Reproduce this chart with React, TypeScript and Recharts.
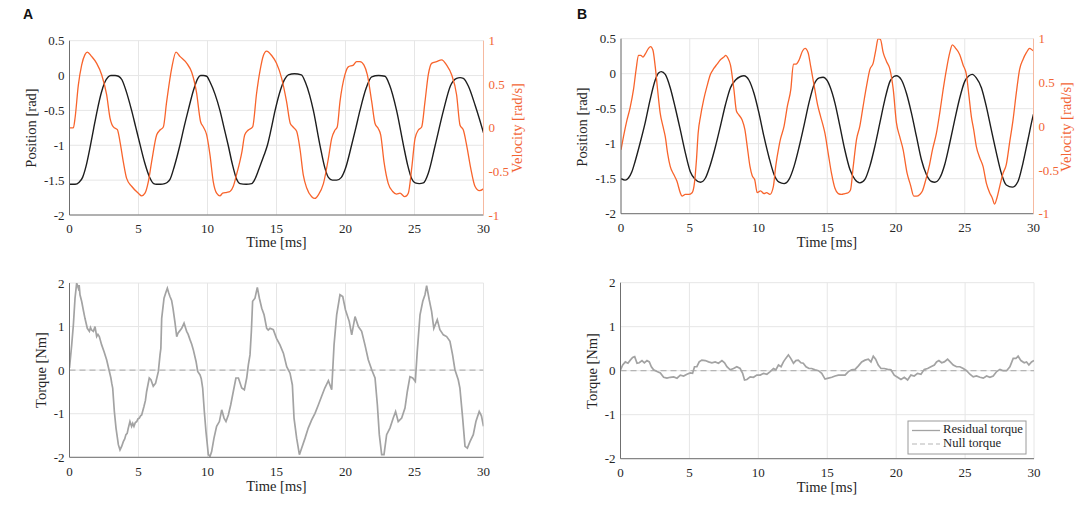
import React from 'react';
import { LineChart, Line, XAxis, YAxis, CartesianGrid } from 'recharts';

// ---------- tick labels ----------
const timeTicks = [0, 5, 10, 15, 20, 25, 30];
const positionTicks = [-2, -1.5, -1, -0.5, 0, 0.5];
const velocityTicks = [-1, -0.5, 0, 0.5, 1];
const torqueTicks = [-2, -1, 0, 1, 2];

// ---------- series [time ms, value] ----------
const positionA = [[0,-1.56],[0.4,-1.56],[0.7,-1.53],[0.95,-1.46],[1.2,-1.3],[1.5,-1.02],[1.75,-0.76],[2.03,-0.48],[2.3,-0.25],[2.55,-0.1],[2.8,-0.02],[3.0,0],[3.3,0],[3.55,-0.01],[3.8,-0.06],[4.1,-0.22],[4.5,-0.5],[4.8,-0.74],[5.1,-0.98],[5.45,-1.25],[5.83,-1.47],[6.1,-1.55],[6.3,-1.56],[6.6,-1.56],[6.9,-1.55],[7.1,-1.53],[7.28,-1.49],[7.6,-1.3],[8.0,-1.0],[8.3,-0.74],[8.6,-0.5],[9.0,-0.2],[9.3,-0.04],[9.5,0],[9.7,0],[9.94,-0.01],[10.2,-0.1],[10.55,-0.27],[10.9,-0.5],[11.2,-0.75],[11.5,-1.0],[11.8,-1.27],[12.1,-1.48],[12.35,-1.55],[12.8,-1.56],[13.2,-1.55],[13.45,-1.48],[13.8,-1.3],[14.1,-1.14],[14.34,-1.0],[14.6,-0.78],[14.9,-0.5],[15.3,-0.2],[15.6,-0.05],[15.86,0.01],[16.3,0.025],[16.8,0.01],[17.1,-0.1],[17.4,-0.28],[17.67,-0.5],[18.15,-1.0],[18.5,-1.32],[18.76,-1.46],[19.05,-1.5],[19.36,-1.5],[19.7,-1.46],[20.0,-1.33],[20.44,-1.0],[20.75,-0.75],[21.05,-0.5],[21.5,-0.18],[21.9,-0.02],[22.4,0],[22.86,-0.01],[23.2,-0.14],[23.7,-0.5],[24.2,-1.0],[24.5,-1.28],[24.8,-1.48],[25.05,-1.54],[25.35,-1.55],[25.64,-1.54],[26.0,-1.4],[26.5,-1.0],[27.1,-0.5],[27.6,-0.15],[28.05,-0.04],[28.3,-0.03],[28.54,-0.04],[28.9,-0.15],[29.4,-0.43],[29.7,-0.62],[30,-0.82]];

const velocityA = [[0,0],[0.28,0],[0.4,0.11],[0.64,0.49],[0.88,0.72],[1.12,0.84],[1.29,0.87],[1.6,0.82],[1.97,0.74],[2.33,0.61],[2.69,0.38],[2.94,0.11],[3.18,0.01],[3.47,-0.02],[3.66,-0.16],[3.9,-0.39],[4.14,-0.58],[4.5,-0.67],[4.99,-0.75],[5.23,-0.78],[5.47,-0.75],[5.71,-0.62],[5.95,-0.39],[6.32,-0.08],[6.56,-0.025],[6.8,0.01],[7.04,0.3],[7.4,0.68],[7.72,0.87],[8.0,0.82],[8.5,0.74],[8.85,0.64],[9.2,0.41],[9.5,0.07],[9.7,0.01],[9.94,-0.08],[10.18,-0.31],[10.42,-0.62],[10.66,-0.75],[10.9,-0.78],[11.1,-0.75],[11.4,-0.74],[11.63,-0.73],[11.87,-0.67],[12.1,-0.54],[12.5,-0.27],[12.7,-0.08],[12.96,-0.025],[13.27,0.01],[13.56,0.4],[13.8,0.65],[14.05,0.83],[14.28,0.88],[14.65,0.83],[15.0,0.74],[15.37,0.57],[15.73,0.3],[16.0,0.05],[16.2,0.01],[16.46,-0.04],[16.7,-0.24],[16.94,-0.54],[17.19,-0.69],[17.55,-0.79],[17.79,-0.81],[18.03,-0.77],[18.4,-0.64],[18.76,-0.35],[19.0,-0.12],[19.24,-0.025],[19.4,0.01],[19.6,0.3],[19.96,0.61],[20.2,0.7],[20.57,0.72],[20.8,0.76],[21.05,0.76],[21.34,0.72],[21.58,0.61],[21.9,0.3],[22.14,0.05],[22.38,-0.01],[22.55,-0.08],[22.79,-0.39],[23.1,-0.64],[23.42,-0.73],[23.7,-0.76],[23.95,-0.75],[24.3,-0.79],[24.55,-0.75],[24.8,-0.46],[25.04,-0.12],[25.28,-0.025],[25.52,0.01],[25.76,0.3],[26.0,0.61],[26.24,0.74],[26.6,0.76],[26.97,0.78],[27.33,0.72],[27.69,0.61],[28.05,0.38],[28.3,0.03],[28.54,-0.025],[28.78,-0.2],[29.07,-0.46],[29.38,-0.67],[29.7,-0.72],[30,-0.7]];

const torqueA = [[0,0.05],[0.16,0.58],[0.28,1.04],[0.4,1.65],[0.52,2.0],[0.64,1.88],[0.7,1.95],[0.76,1.73],[0.88,1.58],[1.0,1.38],[1.12,1.19],[1.29,0.96],[1.44,0.89],[1.52,0.98],[1.6,0.92],[1.73,0.89],[1.85,1.0],[1.97,0.77],[2.06,0.82],[2.16,0.77],[2.33,0.58],[2.5,0.43],[2.69,0.24],[2.89,-0.03],[3.0,-0.18],[3.06,-0.3],[3.13,-0.41],[3.25,-0.95],[3.37,-1.33],[3.54,-1.71],[3.66,-1.83],[3.78,-1.75],[3.9,-1.64],[4.0,-1.58],[4.09,-1.48],[4.18,-1.45],[4.26,-1.33],[4.38,-1.18],[4.5,-1.29],[4.58,-1.22],[4.67,-1.29],[4.77,-1.2],[4.87,-1.18],[4.96,-1.12],[5.06,-1.1],[5.15,-1.05],[5.23,-1.03],[5.4,-0.83],[5.5,-0.7],[5.59,-0.49],[5.78,-0.18],[5.9,-0.22],[6.07,-0.37],[6.24,-0.3],[6.44,-0.03],[6.56,0.35],[6.62,0.5],[6.68,1.19],[6.85,1.65],[7.0,1.8],[7.09,1.88],[7.18,1.78],[7.28,1.69],[7.4,1.6],[7.5,1.42],[7.64,1.1],[7.77,0.77],[7.86,0.85],[7.96,0.89],[8.13,0.96],[8.3,1.08],[8.4,0.98],[8.49,0.89],[8.6,0.82],[8.73,0.7],[8.85,0.6],[8.97,0.47],[9.17,0.2],[9.29,-0.03],[9.46,-0.11],[9.55,-0.2],[9.65,-0.41],[9.77,-0.95],[9.89,-1.41],[10.06,-1.94],[10.18,-1.98],[10.3,-1.87],[10.47,-1.56],[10.66,-1.29],[10.86,-1.18],[11.03,-0.91],[11.2,-1.1],[11.34,-1.18],[11.51,-1.03],[11.68,-0.8],[11.87,-0.49],[12.06,-0.18],[12.24,-0.18],[12.48,-0.41],[12.67,-0.45],[12.84,-0.18],[12.96,0.12],[13.08,0.35],[13.18,0.9],[13.27,1.58],[13.44,1.65],[13.61,1.9],[13.76,1.65],[13.93,1.42],[14.1,1.27],[14.29,0.96],[14.4,0.92],[14.53,0.96],[14.77,0.93],[15.0,0.73],[15.25,0.58],[15.5,0.39],[15.74,0.08],[15.98,-0.07],[16.15,-0.34],[16.27,-1.1],[16.46,-1.56],[16.66,-1.94],[16.82,-1.79],[17.07,-1.56],[17.3,-1.33],[17.55,-1.14],[17.79,-0.99],[18.03,-0.8],[18.27,-0.6],[18.5,-0.41],[18.76,-0.24],[19.0,-0.45],[19.17,0.58],[19.36,1.27],[19.6,1.73],[19.8,1.69],[20.0,1.38],[20.27,1.12],[20.45,0.81],[20.69,1.23],[20.93,1.0],[21.17,0.89],[21.41,0.58],[21.65,0.24],[21.9,0.01],[22.14,-0.18],[22.31,-0.8],[22.45,-1.48],[22.62,-1.94],[22.79,-1.94],[22.98,-1.48],[23.22,-1.33],[23.46,-1.1],[23.63,-0.95],[23.82,-1.18],[24.07,-1.1],[24.31,-0.87],[24.48,-0.49],[24.67,-0.15],[24.87,-0.18],[25.06,-0.26],[25.2,0.43],[25.4,1.27],[25.6,1.58],[25.76,1.73],[25.88,1.94],[26.07,1.61],[26.24,1.35],[26.4,0.96],[26.65,1.16],[26.84,0.93],[27.09,0.81],[27.33,0.77],[27.57,0.66],[27.76,0.35],[27.93,0.01],[28.17,-0.22],[28.29,-0.41],[28.49,-1.1],[28.66,-1.75],[28.83,-1.79],[29.02,-1.64],[29.26,-1.48],[29.45,-1.18],[29.69,-0.95],[29.85,-1.05],[30,-1.29]];

const positionB = [[0,-1.5],[0.3,-1.52],[0.54,-1.49],[0.79,-1.4],[1.03,-1.25],[1.39,-0.99],[1.76,-0.7],[2.12,-0.37],[2.49,-0.09],[2.73,0.01],[2.93,0.03],[3.22,-0.01],[3.58,-0.2],[3.95,-0.49],[4.31,-0.8],[4.68,-1.13],[5.04,-1.4],[5.41,-1.51],[5.78,-1.55],[6.14,-1.49],[6.5,-1.3],[6.87,-1.04],[7.23,-0.75],[7.6,-0.44],[7.96,-0.2],[8.33,-0.09],[8.69,-0.04],[8.94,-0.03],[9.3,-0.09],[9.67,-0.28],[10.03,-0.56],[10.4,-0.9],[10.77,-1.2],[11.13,-1.44],[11.5,-1.55],[11.86,-1.57],[12.22,-1.51],[12.59,-1.32],[12.96,-1.04],[13.32,-0.73],[13.69,-0.4],[14.05,-0.15],[14.42,-0.06],[14.7,-0.05],[15.0,-0.1],[15.19,-0.18],[15.56,-0.42],[15.92,-0.75],[16.28,-1.09],[16.65,-1.37],[17.01,-1.51],[17.37,-1.56],[17.74,-1.51],[18.1,-1.32],[18.46,-1.04],[18.83,-0.7],[19.19,-0.37],[19.56,-0.11],[19.84,-0.04],[20.03,-0.03],[20.4,-0.09],[20.76,-0.28],[21.12,-0.56],[21.49,-0.9],[21.85,-1.23],[22.21,-1.44],[22.58,-1.54],[22.82,-1.55],[23.18,-1.49],[23.54,-1.3],[23.91,-0.99],[24.27,-0.66],[24.63,-0.35],[25.0,-0.11],[25.31,-0.03],[25.55,-0.01],[25.84,-0.06],[26.21,-0.2],[26.57,-0.47],[26.93,-0.8],[27.3,-1.13],[27.66,-1.42],[28.02,-1.59],[28.46,-1.62],[28.87,-1.54],[29.23,-1.28],[29.6,-0.94],[29.96,-0.61],[30,-0.58]];

const velocityB = [[0,-0.27],[0.18,-0.12],[0.42,0.06],[0.66,0.21],[0.91,0.42],[1.1,0.65],[1.27,0.81],[1.44,0.81],[1.59,0.79],[1.78,0.83],[2.0,0.89],[2.15,0.91],[2.32,0.87],[2.49,0.68],[2.66,0.42],[2.85,0.15],[3.05,0],[3.22,-0.12],[3.39,-0.31],[3.58,-0.46],[3.83,-0.55],[4.07,-0.63],[4.31,-0.76],[4.44,-0.8],[4.68,-0.78],[4.92,-0.78],[5.17,-0.76],[5.34,-0.65],[5.49,-0.38],[5.61,-0.08],[5.78,0.11],[6.01,0.3],[6.26,0.46],[6.5,0.59],[6.75,0.66],[6.99,0.71],[7.23,0.76],[7.48,0.79],[7.62,0.81],[7.77,0.78],[7.96,0.7],[8.21,0.42],[8.4,0.17],[8.57,0.13],[8.81,0.07],[9.01,-0.04],[9.18,-0.23],[9.38,-0.46],[9.55,-0.57],[9.72,-0.61],[9.91,-0.76],[10.15,-0.74],[10.4,-0.77],[10.59,-0.76],[10.83,-0.78],[11.08,-0.69],[11.25,-0.46],[11.49,-0.23],[11.61,-0.14],[11.86,0],[12.1,0.23],[12.35,0.42],[12.54,0.71],[12.74,0.71],[12.96,0.76],[13.2,0.86],[13.39,0.89],[13.61,0.84],[13.8,0.68],[14.05,0.46],[14.29,0.25],[14.5,0.12],[14.71,0],[14.83,-0.08],[15.07,-0.31],[15.31,-0.54],[15.56,-0.71],[15.8,-0.77],[16.04,-0.78],[16.28,-0.77],[16.52,-0.76],[16.69,-0.73],[16.89,-0.46],[17.13,-0.15],[17.37,0],[17.61,0.23],[17.86,0.46],[18.1,0.65],[18.34,0.72],[18.53,0.87],[18.7,1.0],[18.87,0.99],[19.07,0.84],[19.31,0.74],[19.56,0.65],[19.8,0.42],[20.03,0.04],[20.27,-0.12],[20.52,-0.27],[20.81,-0.54],[21.05,-0.67],[21.3,-0.8],[21.49,-0.8],[21.73,-0.78],[21.92,-0.74],[22.17,-0.61],[22.41,-0.46],[22.65,-0.27],[22.94,-0.08],[23.18,0.15],[23.43,0.42],[23.67,0.65],[23.91,0.84],[24.1,0.93],[24.34,0.89],[24.63,0.82],[24.88,0.7],[25.12,0.59],[25.31,0.34],[25.48,0.11],[25.65,-0.04],[25.84,-0.23],[26.09,-0.36],[26.33,-0.46],[26.57,-0.65],[26.81,-0.76],[27.0,-0.82],[27.17,-0.89],[27.34,-0.82],[27.54,-0.69],[27.78,-0.54],[28.02,-0.44],[28.26,-0.19],[28.51,0.07],[28.75,0.38],[28.99,0.65],[29.23,0.76],[29.48,0.84],[29.72,0.89],[29.91,0.87],[30,0.86]];

const torqueB = [[0,0.02],[0.16,0.13],[0.35,0.2],[0.54,0.17],[0.71,0.24],[0.88,0.3],[1.03,0.32],[1.2,0.17],[1.36,0.18],[1.56,0.23],[1.73,0.18],[1.92,0.23],[2.09,0.2],[2.24,0.09],[2.4,0.02],[2.65,-0.02],[2.89,-0.05],[3.13,-0.15],[3.37,-0.17],[3.61,-0.15],[3.86,-0.14],[4.1,-0.17],[4.34,-0.1],[4.58,-0.12],[4.82,-0.08],[5.06,-0.05],[5.23,-0.06],[5.37,0.09],[5.54,0.09],[5.71,0.2],[5.9,0.24],[6.15,0.23],[6.39,0.2],[6.63,0.18],[6.87,0.2],[7.11,0.17],[7.36,0.23],[7.55,0.18],[7.72,0.09],[7.96,0.02],[8.2,0.05],[8.44,0.09],[8.68,0.05],[8.86,-0.06],[9.0,-0.21],[9.17,-0.2],[9.41,-0.14],[9.65,-0.15],[9.89,-0.1],[10.14,-0.1],[10.38,-0.06],[10.62,-0.08],[10.86,-0.02],[11.1,0.05],[11.27,0.02],[11.46,0.13],[11.65,0.09],[11.82,0.2],[11.99,0.28],[12.18,0.36],[12.35,0.28],[12.55,0.17],[12.72,0.23],[12.9,0.24],[13.09,0.18],[13.26,0.17],[13.46,0.09],[13.68,0.05],[13.87,0.05],[14.12,0.02],[14.36,0],[14.6,-0.06],[14.84,-0.19],[15.08,-0.17],[15.33,-0.15],[15.57,-0.12],[15.81,-0.1],[16.05,-0.1],[16.29,-0.1],[16.53,-0.02],[16.77,0.02],[17.02,0.03],[17.26,0.11],[17.5,0.2],[17.74,0.24],[17.98,0.26],[18.17,0.2],[18.34,0.33],[18.51,0.26],[18.7,0.13],[18.9,0.05],[19.14,0.05],[19.38,0.03],[19.62,0.02],[19.86,-0.1],[20.1,-0.15],[20.35,-0.2],[20.59,-0.15],[20.83,-0.21],[21.07,-0.1],[21.31,-0.12],[21.55,-0.06],[21.8,-0.08],[22.04,0.03],[22.28,0.05],[22.52,0.09],[22.77,0.13],[22.93,0.2],[23.1,0.23],[23.3,0.18],[23.49,0.2],[23.73,0.26],[23.92,0.2],[24.14,0.13],[24.38,0.09],[24.62,0.09],[24.87,0.05],[25.11,0],[25.35,-0.08],[25.59,-0.14],[25.83,-0.12],[26.08,-0.15],[26.32,-0.17],[26.56,-0.12],[26.8,-0.15],[27.04,-0.12],[27.29,-0.02],[27.53,0.03],[27.77,0],[28.01,0],[28.25,0.09],[28.49,0.28],[28.69,0.28],[28.85,0.33],[29.05,0.23],[29.29,0.18],[29.46,0.2],[29.63,0.13],[29.82,0.2],[30,0.23]];

const nullTorque = [[0,0],[30,0]];

// ---------- styles ----------
const FONT = '"Liberation Serif", "Times New Roman", serif';
const AXIS = '#6f6f6f';
const GRID = '#e6e6e6';
const ORANGE = '#F8642C';
const ORANGE_TEXT = '#F26535';
const ORANGE_AXIS = '#F6B9A0';
const BLACK = '#1e1e1e';
const GRAY = '#a3a3a3';
const tickStyle = { fill: '#262626', fontSize: 13, fontFamily: FONT, style: { fontFamily: FONT } };
const orangeTick = { fill: ORANGE_TEXT, fontSize: 13, fontFamily: FONT, style: { fontFamily: FONT } };

const rows = (pairs: number[][]) => pairs.map(([t, v]) => ({ t, v }));

function TopPanel({ pos, vel, margin }: { pos: number[][]; vel: number[][]; margin: any }) {
  return (
    <LineChart width={542} height={250} margin={margin} style={{ fontFamily: FONT }}>
      <CartesianGrid yAxisId="left" stroke={GRID} strokeWidth={1} />
      <XAxis type="number" dataKey="t" domain={[0, 30]} ticks={timeTicks} height={30}
        tickLine={false} tickSize={3} tickMargin={6} axisLine={{ stroke: AXIS }} tick={tickStyle} allowDataOverflow />
      <YAxis yAxisId="left" type="number" domain={[-2, 0.5]} ticks={positionTicks} width={60}
        tickLine={false} tickSize={3} tickMargin={2} axisLine={{ stroke: AXIS }} tick={tickStyle} allowDataOverflow />
      <YAxis yAxisId="right" orientation="right" type="number" domain={[-1, 1]} ticks={velocityTicks} width={45}
        tickLine={false} tickSize={2} tickMargin={3} axisLine={{ stroke: ORANGE_AXIS }} tick={orangeTick} allowDataOverflow />
      <Line yAxisId="left" data={rows(pos)} dataKey="v" type="monotone" stroke={BLACK} strokeWidth={1.4}
        dot={false} isAnimationActive={false} />
      <Line yAxisId="right" data={rows(vel)} dataKey="v" type="monotone" stroke={ORANGE} strokeWidth={1.3}
        dot={false} isAnimationActive={false} />
    </LineChart>
  );
}

function BottomPanel({ torque, margin }: { torque: number[][]; margin: any }) {
  return (
    <LineChart width={542} height={266} margin={margin} style={{ fontFamily: FONT }}>
      <CartesianGrid stroke={GRID} strokeWidth={1} />
      <XAxis type="number" dataKey="t" domain={[0, 30]} ticks={timeTicks} height={30}
        tickLine={false} tickSize={3} tickMargin={6} axisLine={{ stroke: AXIS }} tick={tickStyle} allowDataOverflow />
      <YAxis type="number" domain={[-2, 2]} ticks={torqueTicks} width={60}
        tickLine={false} tickSize={3} tickMargin={2} axisLine={{ stroke: AXIS }} tick={tickStyle} allowDataOverflow />
      <Line data={rows(nullTorque)} dataKey="v" type="linear" stroke="#b5b5b5" strokeWidth={1.2}
        strokeDasharray="6 4" dot={false} isAnimationActive={false} />
      <Line data={rows(torque)} dataKey="v" type="linear" stroke={GRAY} strokeWidth={1.7}
        dot={false} isAnimationActive={false} />
    </LineChart>
  );
}

function VText({ x, y, children, fill = '#262626' }: any) {
  return (
    <text transform={`translate(${x},${y}) rotate(-90)`} textAnchor="middle" dominantBaseline="middle"
      fontFamily={FONT} fontSize={14.5} fill={fill}>{children}</text>
  );
}
function HText({ x, y, children }: any) {
  return (
    <text x={x} y={y} textAnchor="middle" dominantBaseline="middle" fontFamily={FONT} fontSize={14.5} fill="#262626">{children}</text>
  );
}

export default function App() {
  return (
    <div style={{ position: 'absolute', left: 0, top: 0, width: 1084, height: 516, background: '#fff', fontFamily: FONT }}>
      <div style={{ position: 'absolute', left: 0, top: 0 }}>
        <TopPanel pos={positionA} vel={velocityA} margin={{ top: 40.7, right: 13.5, bottom: 5, left: 9.5 }} />
      </div>
      <div style={{ position: 'absolute', left: 0, top: 250 }}>
        <BottomPanel torque={torqueA} margin={{ top: 33, right: 58.5, bottom: 28.7, left: 9.5 }} />
      </div>
      <div style={{ position: 'absolute', left: 542, top: 0 }}>
        <TopPanel pos={positionB} vel={velocityB} margin={{ top: 38.7, right: 5.5, bottom: 6.3, left: 19 }} />
      </div>
      <div style={{ position: 'absolute', left: 542, top: 250 }}>
        <BottomPanel torque={torqueB} margin={{ top: 32.7, right: 50, bottom: 27.3, left: 18.5 }} />
      </div>
      <svg width={1084} height={516} style={{ position: 'absolute', left: 0, top: 0, pointerEvents: 'none' }}>
        <text x={23} y={19} fontFamily='"Liberation Sans", Arial, sans-serif' fontWeight="bold" fontSize={14} fill="#111">A</text>
        <text x={577} y={19} fontFamily='"Liberation Sans", Arial, sans-serif' fontWeight="bold" fontSize={14} fill="#111">B</text>
        <VText x={33} y={128}>Position [rad]</VText>
        <VText x={518.5} y={128} fill={ORANGE_TEXT}>Velocity [rad/s]</VText>
        <HText x={276.5} y={244}>Time [ms]</HText>
        <VText x={43} y={370}>Torque [Nm]</VText>
        <HText x={276.5} y={488}>Time [ms]</HText>
        <VText x={584} y={127}>Position [rad]</VText>
        <VText x={1068} y={127} fill={ORANGE_TEXT}>Velocity [rad/s]</VText>
        <HText x={827} y={244}>Time [ms]</HText>
        <VText x={594} y={371}>Torque [Nm]</VText>
        <HText x={827} y={489}>Time [ms]</HText>
        <g>
          <rect x={908} y={421} width={118} height={33} fill="#fff" stroke="#9a9a9a" strokeWidth={1} />
          <line x1={912} y1={430.5} x2={940} y2={430.5} stroke={GRAY} strokeWidth={1.3} />
          <text x={943} y={430.5} dominantBaseline="middle" fontFamily={FONT} fontSize={12.7} fill="#262626">Residual torque</text>
          <line x1={912} y1={444} x2={940} y2={444} stroke="#b5b5b5" strokeWidth={1.2} strokeDasharray="5 3" />
          <text x={943} y={444} dominantBaseline="middle" fontFamily={FONT} fontSize={12.7} fill="#262626">Null torque</text>
        </g>
      </svg>
    </div>
  );
}
